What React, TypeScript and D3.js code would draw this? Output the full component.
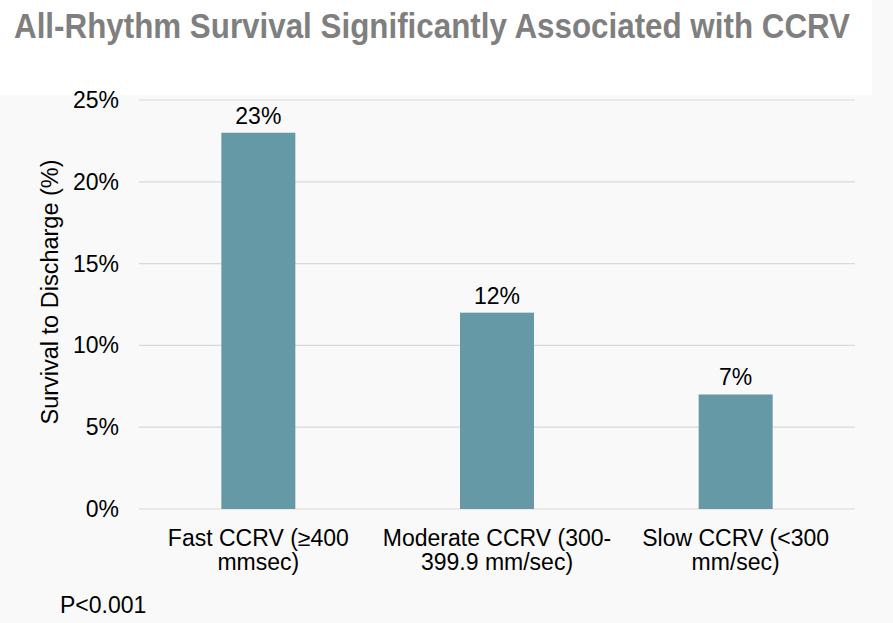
import React from "react";
import * as d3 from "d3";

const categories = ["Fast CCRV (≥400|mmsec)", "Moderate CCRV (300-|399.9 mm/sec)", "Slow CCRV (<300|mm/sec)"];
const values = [23, 12, 7];
const valueLabels = ["23%", "12%", "7%"];
const yTicks = [0, 5, 10, 15, 20, 25];

const W = 893;
const H = 623;
const left = 139;
const right = 855;
const top = 100;
const bottom = 509;

export default function App() {
  const x = d3.scaleBand<string>().domain(categories).range([left, right]).paddingInner(0).paddingOuter(0);
  const y = d3.scaleLinear().domain([0, 25]).range([bottom, top]);
  const bw = x.bandwidth() * 0.31;
  const font = "'Liberation Sans', Arial, sans-serif";
  const fs = 23;
  return (
    <svg width={W} height={H} style={{ position: "absolute", left: 0, top: 0 }}>
      <rect x={0} y={0} width={W} height={H} fill="#f9f9f9" />
      <rect x={0} y={0} width={872} height={95} fill="#ffffff" />
      <text
        x={14}
        y={38}
        fontFamily="'Liberation Sans Narrow', 'Arial Narrow', sans-serif"
        fontWeight="bold"
        fontSize={35}
        fill="#7f7f7f"
        textLength={836}
        lengthAdjust="spacingAndGlyphs"
      >
        All-Rhythm Survival Significantly Associated with CCRV
      </text>
      {yTicks.map((t) => (
        <g key={t}>
          <line x1={left} x2={right} y1={y(t)} y2={y(t)} stroke="#d9d9d9" strokeWidth={1.2} />
          <text x={119} y={y(t) + 8} textAnchor="end" fontFamily={font} fontSize={fs} fill="#000">
            {t}%
          </text>
        </g>
      ))}
      {categories.map((c, i) => {
        const cx = (x(c) as number) + x.bandwidth() / 2;
        const lines = c.split("|");
        return (
          <g key={c}>
            <rect x={cx - bw / 2} y={y(values[i])} width={bw} height={y(0) - y(values[i])} fill="#6599a6" />
            <text x={cx} y={y(values[i]) - 9} textAnchor="middle" fontFamily={font} fontSize={fs} fill="#000">
              {valueLabels[i]}
            </text>
            {lines.map((l, j) => (
              <text key={j} x={cx} y={546 + j * 24} textAnchor="middle" fontFamily={font} fontSize={fs} fill="#000">
                {l}
              </text>
            ))}
          </g>
        );
      })}
      <text
        transform={`translate(58, 292) rotate(-90)`}
        textAnchor="middle"
        fontFamily={font}
        fontSize={23.5}
        fill="#000"
      >
        Survival to Discharge (%)
      </text>
      <text x={60} y={613} fontFamily={font} fontSize={fs} fill="#000">
        P&lt;0.001
      </text>
    </svg>
  );
}
